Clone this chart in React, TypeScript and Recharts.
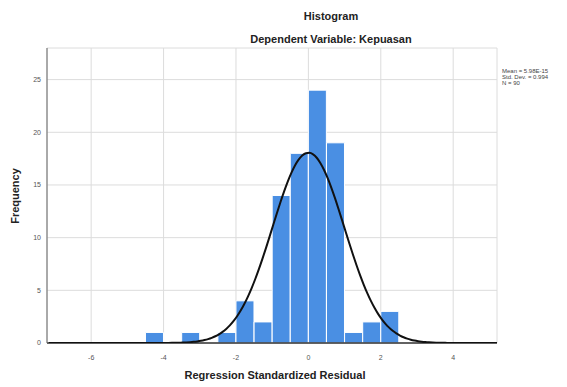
import React from "react";
import { ComposedChart, Bar, Line, XAxis, YAxis, CartesianGrid } from "recharts";

// Residual histogram: bin centres and counts
const BIN_CENTERS = [-4.25, -3.25, -2.25, -1.75, -1.25, -0.75, -0.25, 0.25, 0.75, 1.25, 1.75, 2.25];
const FREQUENCIES = [1, 1, 1, 4, 2, 14, 18, 24, 19, 1, 2, 3];
const BIN_WIDTH = 0.5;

// Summary statistics shown in the legend
const MEAN = 5.98e-15;
const STD_DEV = 0.994;
const N = 90;

const X_TICKS = [-6, -4, -2, 0, 2, 4];
const Y_TICKS = [0, 5, 10, 15, 20, 25];
const X_DOMAIN: [number, number] = [-7.22, 5.21];
const Y_DOMAIN: [number, number] = [0, 28];

const bins = BIN_CENTERS.map((x, i) => ({ x, count: FREQUENCIES[i] }));

// Fitted normal curve scaled to the histogram counts
const normalHeight = (x: number) =>
  (N * BIN_WIDTH) / (STD_DEV * Math.sqrt(2 * Math.PI)) *
  Math.exp(-((x - MEAN) ** 2) / (2 * STD_DEV ** 2));

const curve: { x: number; y: number }[] = [];
for (let i = 0; i <= 124; i++) {
  const x = X_DOMAIN[0] + 0.05 + i * 0.1;
  curve.push({ x: +x.toFixed(2), y: normalHeight(x) });
}

const W = 567;
const H = 387;
const FONT = '"Liberation Sans", Arial, sans-serif';
const X_AXIS_H = 20;
const Y_AXIS_W = 20;
const margin = { top: 48, right: 70, left: 27, bottom: 24 };
// hidden axes take no room, so the overlay needs their space added back
const overlayMargin = { ...margin, left: margin.left + Y_AXIS_W, bottom: margin.bottom + X_AXIS_H };

const tickStyle = { fontSize: 7, fill: "#555", fontFamily: FONT };

function Axes({ hide }: { hide?: boolean }) {
  return (
    <>
      <XAxis
        type="number"
        dataKey="x"
        domain={X_DOMAIN}
        ticks={X_TICKS}
        allowDataOverflow
        height={X_AXIS_H}
        hide={hide}
        tickLine={false}
        tickMargin={6}
        tick={tickStyle}
        axisLine={{ stroke: "#333", strokeWidth: 1.5 }}
      />
      <YAxis
        type="number"
        domain={Y_DOMAIN}
        ticks={Y_TICKS}
        allowDataOverflow
        width={Y_AXIS_W}
        hide={hide}
        tickLine={false}
        tickSize={3}
        tickMargin={3}
        tick={tickStyle}
        axisLine={{ stroke: "#666", strokeWidth: 1 }}
      />
    </>
  );
}

export default function App() {
  return (
    <div
      style={{
        position: "absolute",
        left: 0,
        top: 0,
        width: W,
        height: H,
        overflow: "hidden",
        background: "#fff",
        fontFamily: FONT,
        color: "#222",
      }}
    >
      {/* bars with grid and axes */}
      <div style={{ position: "absolute", left: 0, top: 0 }}>
        <ComposedChart width={W} height={H} data={bins} margin={margin} barCategoryGap={0} barGap={0}>
          <CartesianGrid stroke="#dcdcdc" />
          <Axes />
          <Bar dataKey="count" fill="#4a8fe3" stroke="#fff" strokeWidth={1} isAnimationActive={false} />
        </ComposedChart>
      </div>

      {/* normal curve drawn on the same scales */}
      <div style={{ position: "absolute", left: 0, top: 0 }}>
        <ComposedChart width={W} height={H} data={curve} margin={overlayMargin}>
          <Axes hide />
          <Line
            dataKey="y"
            type="monotone"
            stroke="#111"
            strokeWidth={2}
            dot={false}
            isAnimationActive={false}
          />
        </ComposedChart>
      </div>

      <div style={{ position: "absolute", left: 0, width: 662, top: 10, textAlign: "center", fontSize: 11, fontWeight: "bold" }}>
        Histogram
      </div>
      <div style={{ position: "absolute", left: 0, width: 662, top: 33, textAlign: "center", fontSize: 11, fontWeight: "bold" }}>
        Dependent Variable: Kepuasan
      </div>
      <div style={{ position: "absolute", left: 0, width: 550, top: 369, textAlign: "center", fontSize: 11, fontWeight: "bold" }}>
        Regression Standardized Residual
      </div>
      <div
        style={{
          position: "absolute",
          left: 15,
          top: 196,
          transform: "translate(-50%, -50%) rotate(-90deg)",
          fontSize: 11,
          fontWeight: "bold",
          whiteSpace: "nowrap",
        }}
      >
        Frequency
      </div>
      <div style={{ position: "absolute", left: 502, top: 68, fontSize: 6, lineHeight: "6px", color: "#444", whiteSpace: "nowrap" }}>
        <div>Mean = 5.98E-15</div>
        <div>Std. Dev. = 0.994</div>
        <div>N = 90</div>
      </div>
    </div>
  );
}
